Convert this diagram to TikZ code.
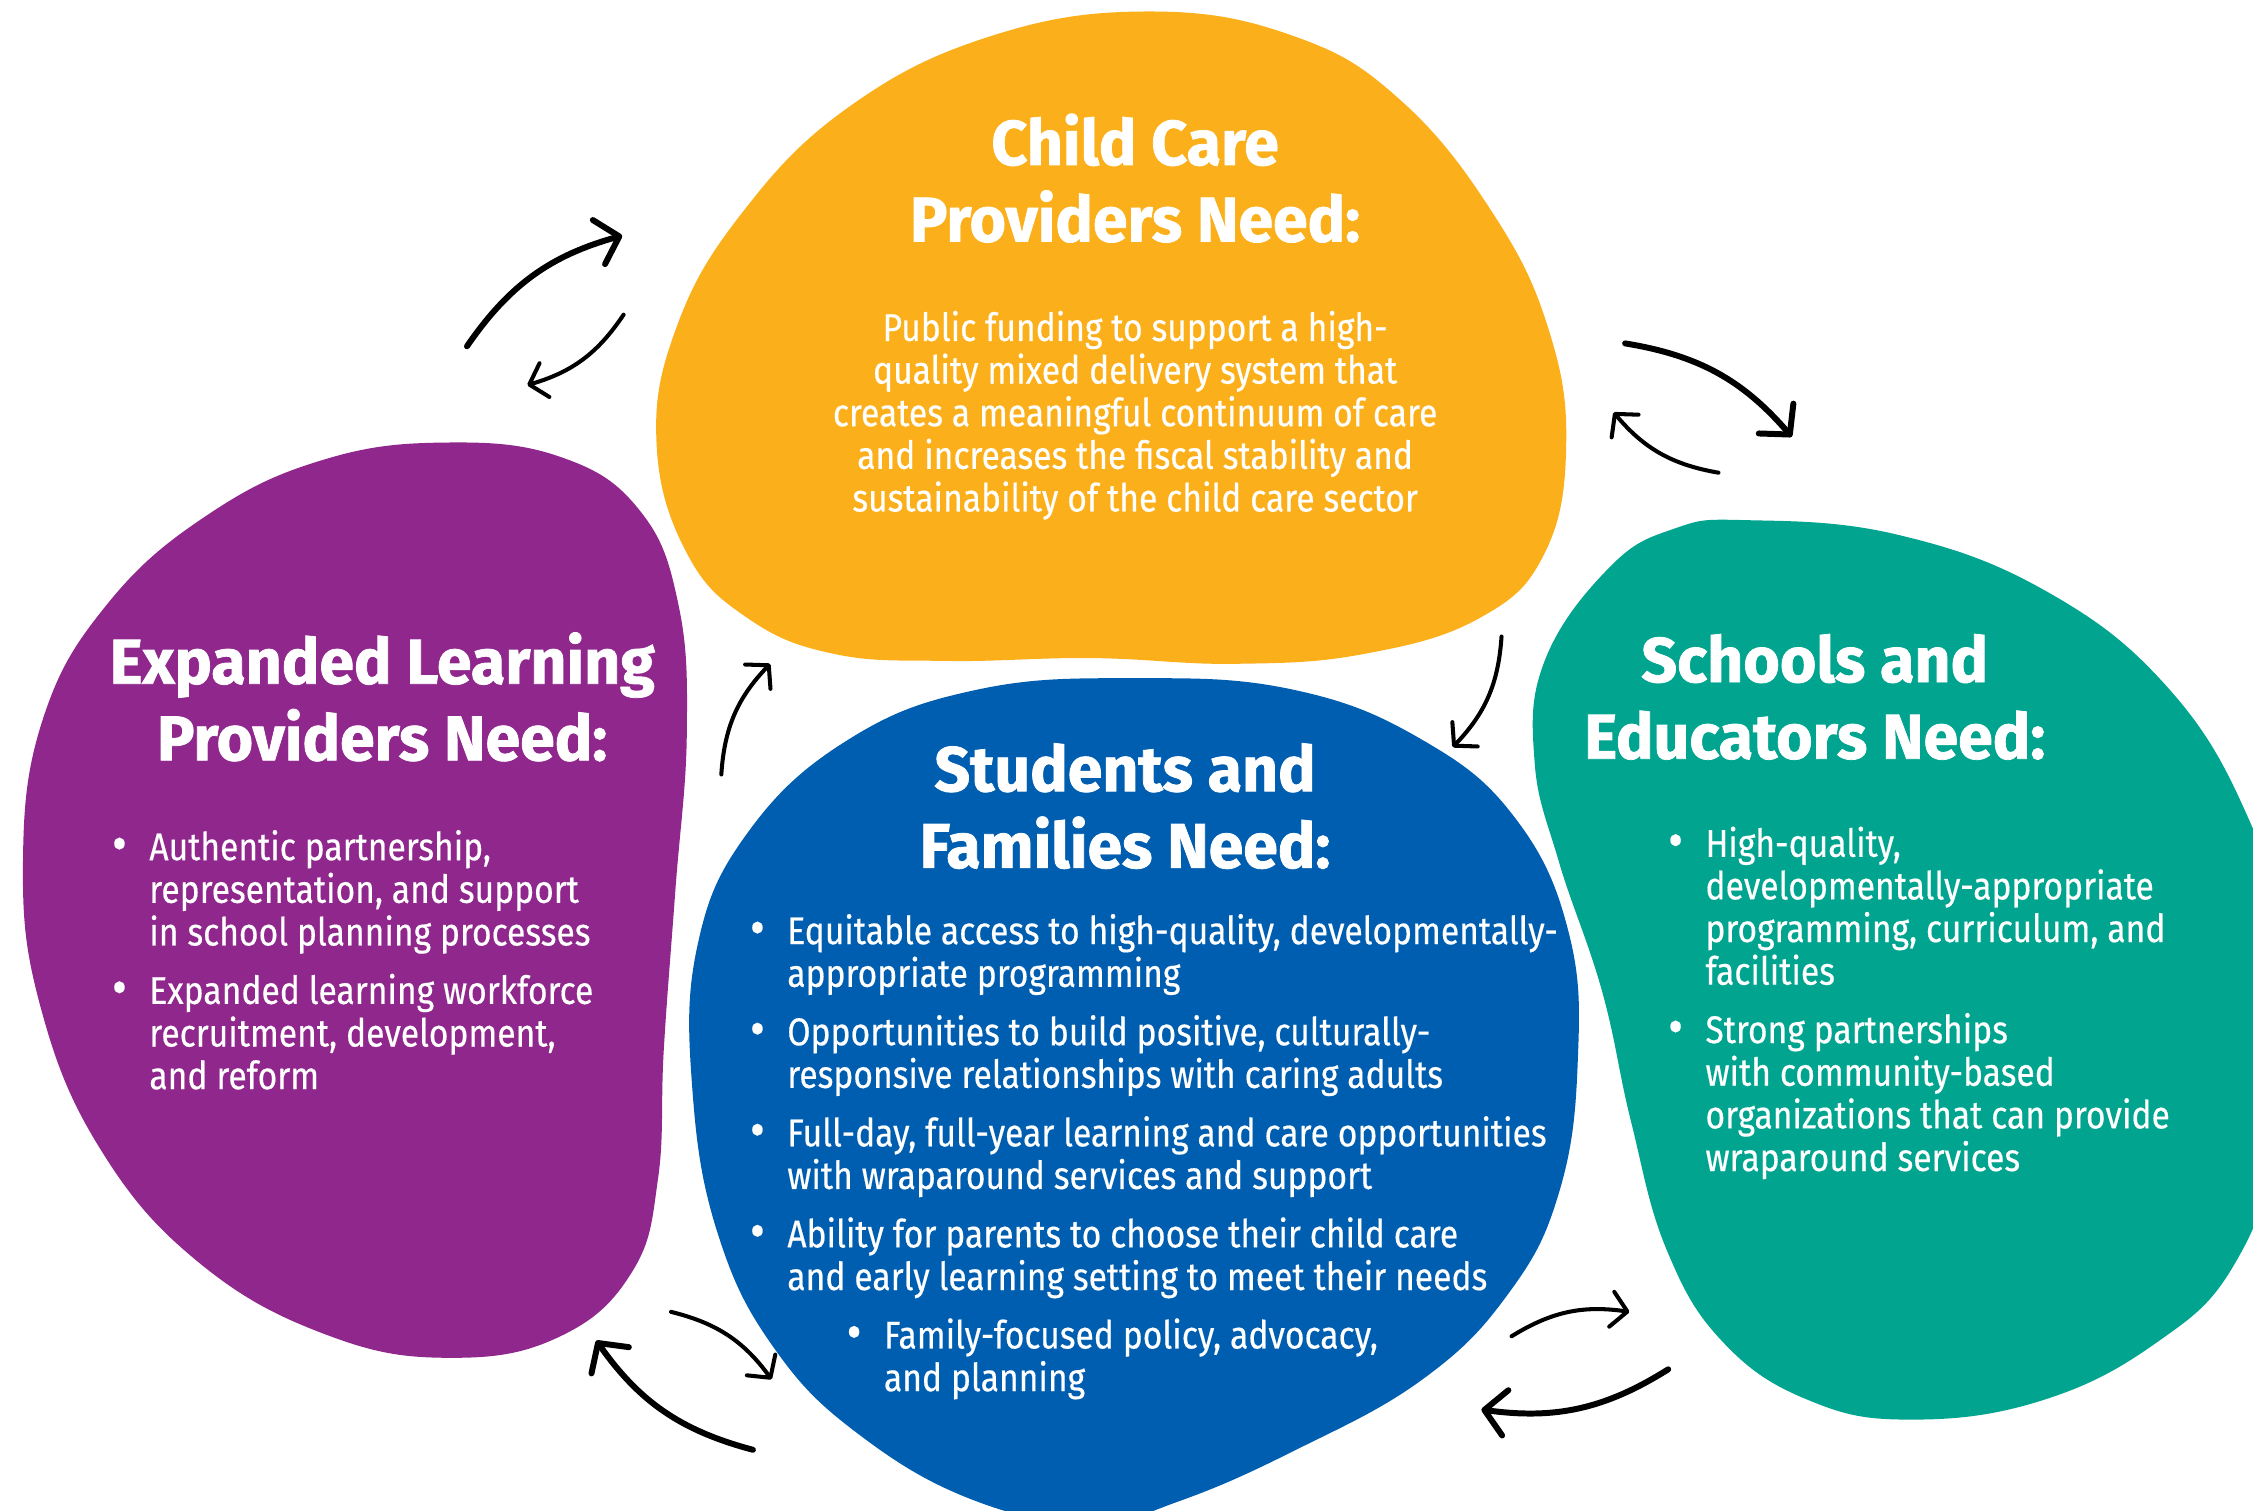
\documentclass[tikz,border=0pt]{standalone}
\usepackage{fontspec}
\setmainfont{Fira Sans}[FakeStretch=0.87,FakeBold=0.4]
\newfontfamily\titlefont{Fira Sans}[FakeStretch=0.99,FakeBold=1.2]
\usetikzlibrary{arrows.meta}
\definecolor{ccyellow}{HTML}{FBB01B}
\definecolor{ccpurple}{HTML}{8F278C}
\definecolor{ccblue}{HTML}{005EB0}
\definecolor{ccteal}{HTML}{00A48F}
\newcommand\bul{\makebox[10pt][l]{\hspace*{-0.6pt}\raisebox{-0.35pt}{\scalebox{1.35}{\textbullet}}}}
\newcommand\ind{\hspace*{10pt}}
\begin{document}
\begin{tikzpicture}[x=0.14369mm,y=-0.14369mm,
  titletext/.style={text=white, font=\titlefont\bfseries\fontsize{18}{21.8}\selectfont, align=center, inner sep=0pt},
  bodytext/.style={text=white, font=\fontsize{11}{12.13}\selectfont, inner sep=0pt},
  bigarrow/.style={line width=1.7pt, line cap=round, -{Straight Barb[length=6pt,width=13pt,line cap=round,line join=round]}},
  smallarrow/.style={line width=1.15pt, line cap=round, -{Straight Barb[length=4.5pt,width=10pt,line cap=round,line join=round]}},
  blobshape/.style={smooth cycle, tension=0.7}]
\useasboundingbox (0,0) rectangle (1568,1051);
\clip (0,0) rectangle (1568,1051);
\fill[white] (0,0) rectangle (1568,1051);

% blobs
\fill[ccyellow] plot[blobshape] coordinates {(800,8) (900,25) (975,70) (1040,150) (1078,230) (1090,310) (1075,385) (1030,430) (950,455) (860,462) (760,458) (660,460) (580,455) (520,430) (478,385) (457,310) (470,230) (515,150) (590,75) (690,25)};
\fill[ccpurple] plot[blobshape] coordinates {(310,308) (390,318) (445,355) (472,420) (478,510) (470,620) (462,730) (458,820) (440,885) (390,930) (315,945) (230,930) (140,880) (70,800) (28,700) (16,600) (30,500) (75,420) (145,358) (225,320)};
\fill[ccteal] plot[blobshape] coordinates {(1215,362) (1320,372) (1425,412) (1510,480) (1565,570) (1590,660) (1585,790) (1555,880) (1500,935) (1420,975) (1330,988) (1260,975) (1200,935) (1160,870) (1135,780) (1115,690) (1085,600) (1068,530) (1075,460) (1120,395) (1165,368)};
\fill[ccblue] plot[blobshape] coordinates {(790,472) (900,480) (990,515) (1055,570) (1092,650) (1098,740) (1085,830) (1050,900) (990,960) (900,1010) (820,1045) (760,1060) (680,1045) (600,1000) (540,940) (500,860) (482,760) (485,660) (520,580) (590,515) (680,480)};

% texts
\node[titletext] (cct) at (790,124) {Child Care\\Providers Need:};
\node[bodytext, align=center] (ccb) at (790,289) {Public funding to support a high-\\quality mixed delivery system that\\creates a meaningful continuum of care\\and increases the fiscal stability and\\sustainability of the child care sector};

\node[titletext] (elt) at (266,485) {Expanded Learning\\Providers Need:};
\node[bodytext, align=left, anchor=west] (elb) at (79,668) {\bul Authentic partnership,\\ \ind representation, and support\\ \ind in school planning processes\\[4.5pt] \bul Expanded learning workforce\\ \ind recruitment, development,\\ \ind and reform};

\node[titletext] (sft) at (783,561) {Students and\\Families Need:};
\node[bodytext, align=left, anchor=west] (sfb) at (523,805) {\bul Equitable access to high-quality, developmentally-\\ \ind appropriate programming\\[4.5pt]
\bul Opportunities to build positive, culturally-\\ \ind responsive relationships with caring adults\\[4.5pt]
\bul Full-day, full-year learning and care opportunities\\ \ind with wraparound services and support\\[4.5pt]
\bul Ability for parents to choose their child care\\ \ind and early learning setting to meet their needs\\[4.5pt]
\hspace*{27.5pt}\bul Family-focused policy, advocacy,\\ \hspace*{37.5pt}and planning};

\node[titletext] (set) at (1263,485) {Schools and\\Educators Need:};
\node[bodytext, align=left, anchor=west] (seb) at (1162,698) {\bul High-quality,\\ \ind developmentally-appropriate\\ \ind programming, curriculum, and\\ \ind facilities\\[4.5pt] \bul Strong partnerships\\ \ind with community-based\\ \ind organizations that can provide\\ \ind wraparound services};

% arrow end points
\coordinate (a1s) at (325,241); \coordinate (a1e) at (433,164);
\coordinate (b1s) at (434,219); \coordinate (b1e) at (367,268);
\coordinate (a2s) at (1131,239); \coordinate (a2e) at (1247,304);
\coordinate (b2s) at (1196,329); \coordinate (b2e) at (1123,287);
\coordinate (a3s) at (524,1009); \coordinate (a3e) at (415,933);
\coordinate (b3s) at (467,913); \coordinate (b3e) at (537,960);
\coordinate (b4s) at (1052,930); \coordinate (b4e) at (1134,913);
\coordinate (a4s) at (1161,953); \coordinate (a4e) at (1031,981);
\coordinate (c1s) at (502,539); \coordinate (c1e) at (536,462);
\coordinate (c2s) at (1045,443); \coordinate (c2e) at (1011,520);

\draw[bigarrow] (a1s) to[bend left=20] (a1e);
\draw[smallarrow] (b1s) to[bend left=20] (b1e);
\draw[bigarrow] (a2s) to[bend left=20] (a2e);
\draw[smallarrow] (b2s) to[bend left=20] (b2e);
\draw[bigarrow] (a3s) to[bend left=20] (a3e);
\draw[smallarrow] (b3s) to[bend left=20] (b3e);
\draw[smallarrow] (b4s) to[bend left=20] (b4e);
\draw[bigarrow] (a4s) to[bend left=20] (a4e);
\draw[smallarrow] (c1s) to[bend left=20] (c1e);
\draw[smallarrow] (c2s) to[bend left=20] (c2e);
\end{tikzpicture}
\end{document}
